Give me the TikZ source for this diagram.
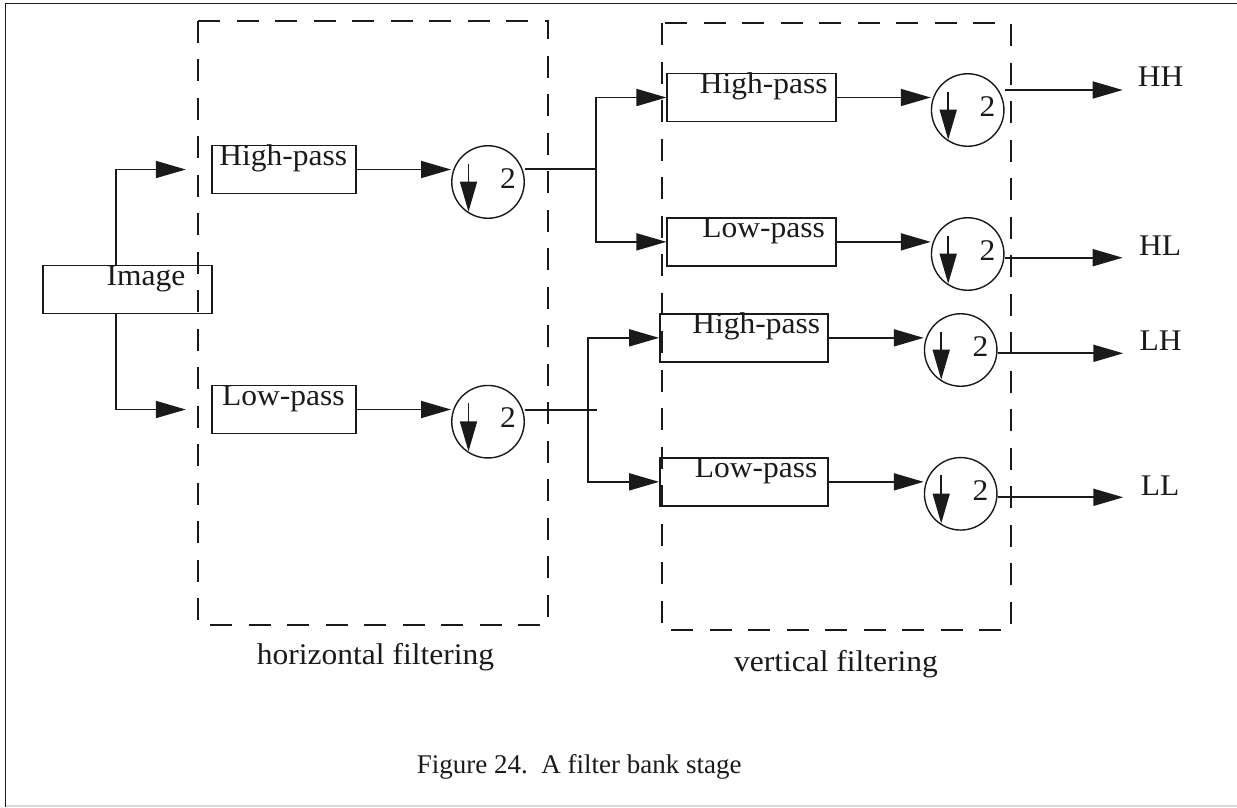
\documentclass[tikz,border=0pt]{standalone}
\usepackage{fontspec}
\setmainfont{Liberation Serif}[FakeStretch=1.05]
\newfontfamily\capfont{Liberation Serif}
\usetikzlibrary{arrows.meta,calc}
\definecolor{ink}{HTML}{1A1A1A}
\begin{document}
\begin{tikzpicture}[x=1pt,y=-1pt,
  ln/.style={draw=ink, line width=1.7pt},
  arr/.style={ln, -{Triangle[length=30pt,width=17pt]}},
  box/.style={draw=ink, line width=1.7pt, inner sep=0pt, minimum height=47.8pt},
  dsc/.style={circle, draw=ink, line width=1.4pt, minimum size=72.5pt, inner sep=0pt},
  grp/.style={draw=ink, line width=1.7pt, dash pattern=on 22pt off 16.5pt},
  lbl/.style={inner sep=0pt, text=ink, font=\fontsize{30}{36}\selectfont}]
\useasboundingbox (0,0) rectangle (1237,807);

% outer frame
\draw[ink, line width=1.5pt] (5.5,807) -- (5.5,3.5) -- (1237,3.5);
\draw[black!15, line width=1.5pt] (5.5,806) -- (1237,806);

% filtering groups
\draw[grp] (198.3,20.7) rectangle (548.3,625);
\draw[grp] (661.7,23.3) rectangle (1011,630);
\node[lbl, anchor=base] (hflab) at (375.5,664) {horizontal filtering};
\node[lbl, anchor=base] (vflab) at (836,671) {vertical filtering};

% filter boxes
\node[box, minimum width=168.4pt] (img) at (127.5,289.5) {};
\node[box, minimum width=144.3pt] (hp1) at (283.85,169.5) {};
\node[box, minimum width=144.3pt] (lp1) at (283.85,409.5) {};
\node[box, minimum width=168.7pt] (hp2) at (751.65,97.5) {};
\node[box, minimum width=168.7pt] (lp2) at (751.65,241.85) {};
\node[box, minimum width=168.3pt] (hp3) at (744.15,337.85) {};
\node[box, minimum width=168.3pt] (lp3) at (744.15,481.85) {};

\node[lbl, anchor=base] (imgt) at ($(img.north)+(18.4,21)$) {Image};
\foreach \b/\t/\dx in {hp1/High-pass/-0.7, lp1/Low-pass/-0.5,
                       hp2/High-pass/12, lp2/Low-pass/12,
                       hp3/High-pass/12, lp3/Low-pass/12}
  \node[lbl, anchor=base] (\b t) at ($(\b.north)+(\dx,20.7)$) {\t};

% downsamplers
\foreach \n/\x/\y in {c1/488/182, c2/488/421.7, c3/967.7/110,
                      c4/967.7/254, c5/960.7/350, c6/960.7/493.8} {
  \node[dsc] (\n) at (\x,\y) {};
  \draw[arr] ($(\n.center)+(-19.5,-18.5)$) -- ($(\n.center)+(-19.5,29.7)$);
  \node[lbl, anchor=base west] (\n t) at ($(\n.center)+(11.8,6.2)$) {2};
}

% image to first stage
\draw[arr, shorten >=25pt] ($(img.north)+(-11.5,0)$) |- (hp1.west);
\draw[arr, shorten >=25pt] ($(img.south)+(-11.5,0)$) |- (lp1.west);
\draw[arr] (hp1.east) -- (hp1.east -| c1.west);
\draw[arr] (lp1.east) -- (lp1.east -| c2.west);

% branching into the second stage
\coordinate (j1) at (595.7,169.3);
\draw[ln] (c1.east |- j1) -- (j1);
\draw[arr] (j1) |- (hp2.west);
\draw[arr] (j1) |- (lp2.west);

\coordinate (j2) at (588.3,410);
\draw[ln] (c2.east |- j2) -- ([xshift=8.4pt]j2);
\draw[arr] (j2) |- (hp3.west);
\draw[arr] (j2) |- (lp3.west);

\draw[arr] (hp2.east) -- (hp2.east -| c3.west);
\draw[arr] (lp2.east) -- (lp2.east -| c4.west);
\draw[arr] (hp3.east) -- (hp3.east -| c5.west);
\draw[arr] (lp3.east) -- (lp3.east -| c6.west);

% outputs
\coordinate (oHH) at (1122.7,90);
\coordinate (oHL) at (1122.7,257.7);
\coordinate (oLH) at (1123.3,353.3);
\coordinate (oLL) at (1123.3,497.3);
\draw[arr] (c3.east |- oHH) -- (oHH);
\draw[arr] (c4.east |- oHL) -- (oHL);
\draw[arr] (c5.east |- oLH) -- (oLH);
\draw[arr] (c6.east |- oLL) -- (oLL);
\node[lbl, anchor=base west] (HH) at (1137.7,86.7) {HH};
\node[lbl, anchor=base west] (HL) at (1139,255) {HL};
\node[lbl, anchor=base west] (LH) at (1139.3,350.7) {LH};
\node[lbl, anchor=base west] (LL) at (1140.7,495) {LL};

% caption
\node[lbl, anchor=base west, font=\capfont\fontsize{27}{32}\selectfont] (cap)
  at (416.7,773.3) {Figure 24.\ \ A filter bank stage};
\end{tikzpicture}
\end{document}
